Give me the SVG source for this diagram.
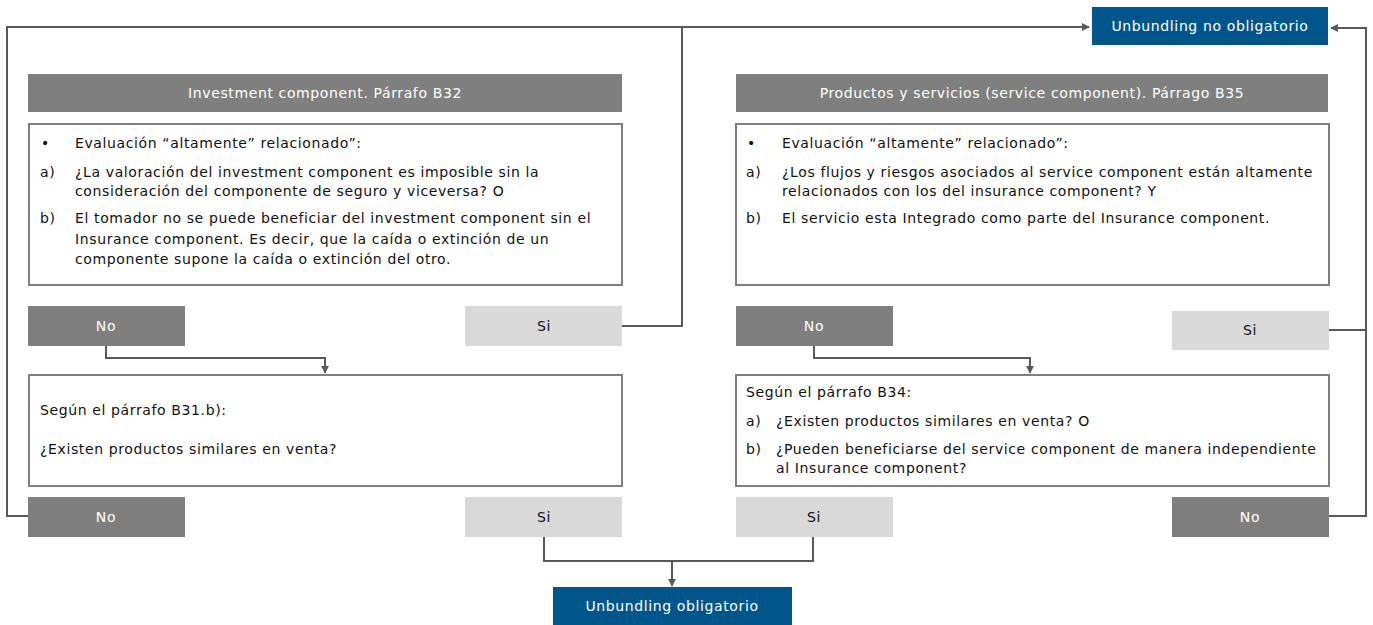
<svg xmlns="http://www.w3.org/2000/svg" width="1373" height="625" viewBox="0 0 1373 625">
<defs>
<marker id="arr" viewBox="0 0 10 10" refX="9" refY="5" markerWidth="4" markerHeight="4" orient="auto" markerUnits="strokeWidth">
<path d="M0,0 L10,5 L0,10 z" fill="#595959"/>
</marker>
<style>
.hdr{fill:#7f7f7f}
.box{fill:#ffffff;stroke:#7f7f7f;stroke-width:2}
.no{fill:#7f7f7f}
.si{fill:#d9d9d9}
.blue{fill:#00568a}
text{font-family:"DejaVu Sans","Liberation Sans",sans-serif;font-size:14px;letter-spacing:0.62px}
.w{fill:#ffffff}
.d{fill:#111111}
.c{text-anchor:middle}
.ln{fill:none;stroke:#595959;stroke-width:2}
</style>
</defs>
<g id="connectors">
<polyline class="ln" points="28,516 7,516 7,27 1089,27" marker-end="url(#arr)"/>
<polyline class="ln" points="622,326 682,326 682,27"/>
<polyline class="ln" points="1329,330 1366,330 1366,28 1331,28" marker-end="url(#arr)"/>
<polyline class="ln" points="1329,516 1366,516 1366,328"/>
<polyline class="ln" points="106,346 106,358 325,358 325,373" marker-end="url(#arr)"/>
<polyline class="ln" points="814,346 814,358 1030,358 1030,373" marker-end="url(#arr)"/>
<polyline class="ln" points="544,537 544,561 813,561 813,537"/>
<polyline class="ln" points="672,561 672,586" marker-end="url(#arr)"/>
</g>
<g id="unbundling-no">
<rect class="blue" x="1092" y="7" width="236" height="38"/>
<text class="w c" x="1210" y="31">Unbundling no obligatorio</text>
</g>
<g id="hdr-left">
<rect class="hdr" x="28" y="74" width="594" height="38"/>
<text class="w c" x="325" y="98">Investment component. Párrafo B32</text>
</g>
<g id="hdr-right">
<rect class="hdr" x="736" y="74" width="592" height="38"/>
<text class="w c" x="1032" y="98">Productos y servicios (service component). Párrago B35</text>
</g>
<g id="box-left-top">
<rect class="box" x="29" y="124" width="593" height="161"/>
<text class="d" x="41" y="148">•</text>
<text class="d" x="75" y="148">Evaluación “altamente” relacionado”:</text>
<text class="d" x="40" y="177">a)</text>
<text class="d" x="75" y="177">¿La valoración del investment component es imposible sin la</text>
<text class="d" x="75" y="196">consideración del componente de seguro y viceversa? O</text>
<text class="d" x="40" y="223">b)</text>
<text class="d" x="75" y="223">El tomador no se puede beneficiar del investment component sin el</text>
<text class="d" x="75" y="244">Insurance component. Es decir, que la caída o extinción de un</text>
<text class="d" x="75" y="264">componente supone la caída o extinción del otro.</text>
</g>
<g id="box-right-top">
<rect class="box" x="736" y="124" width="593" height="161"/>
<text class="d" x="747" y="148">•</text>
<text class="d" x="782" y="148">Evaluación “altamente” relacionado”:</text>
<text class="d" x="746" y="177">a)</text>
<text class="d" x="782" y="177">¿Los flujos y riesgos asociados al service component están altamente</text>
<text class="d" x="782" y="196">relacionados con los del insurance component? Y</text>
<text class="d" x="746" y="223">b)</text>
<text class="d" x="782" y="223">El servicio esta Integrado como parte del Insurance component.</text>
</g>
<g id="no-left-top">
<rect class="no" x="28" y="306" width="157" height="40"/>
<text class="w c" x="106" y="331">No</text>
</g>
<g id="si-left-top">
<rect class="si" x="465" y="306" width="157" height="40"/>
<text class="d c" x="544" y="331">Si</text>
</g>
<g id="no-right-top">
<rect class="no" x="736" y="306" width="157" height="40"/>
<text class="w c" x="814" y="331">No</text>
</g>
<g id="si-right-top">
<rect class="si" x="1172" y="311" width="157" height="39"/>
<text class="d c" x="1250" y="335">Si</text>
</g>
<g id="box-left-bottom">
<rect class="box" x="29" y="375" width="593" height="111"/>
<text class="d" x="40" y="415">Según el párrafo B31.b):</text>
<text class="d" x="40" y="454">¿Existen productos similares en venta?</text>
</g>
<g id="box-right-bottom">
<rect class="box" x="736" y="375" width="593" height="111"/>
<text class="d" x="746" y="397">Según el párrafo B34:</text>
<text class="d" x="746" y="426">a)</text>
<text class="d" x="776" y="426">¿Existen productos similares en venta? O</text>
<text class="d" x="746" y="454">b)</text>
<text class="d" x="776" y="454">¿Pueden beneficiarse del service component de manera independiente</text>
<text class="d" x="776" y="473">al Insurance component?</text>
</g>
<g id="no-left-bottom">
<rect class="no" x="28" y="497" width="157" height="40"/>
<text class="w c" x="106" y="522">No</text>
</g>
<g id="si-left-bottom">
<rect class="si" x="465" y="497" width="157" height="40"/>
<text class="d c" x="544" y="522">Si</text>
</g>
<g id="si-right-bottom">
<rect class="si" x="736" y="497" width="157" height="40"/>
<text class="d c" x="814" y="522">Si</text>
</g>
<g id="no-right-bottom">
<rect class="no" x="1172" y="497" width="157" height="40"/>
<text class="w c" x="1250" y="522">No</text>
</g>
<g id="unbundling">
<rect class="blue" x="553" y="587" width="239" height="38"/>
<text class="w c" x="672" y="611">Unbundling obligatorio</text>
</g>
</svg>
